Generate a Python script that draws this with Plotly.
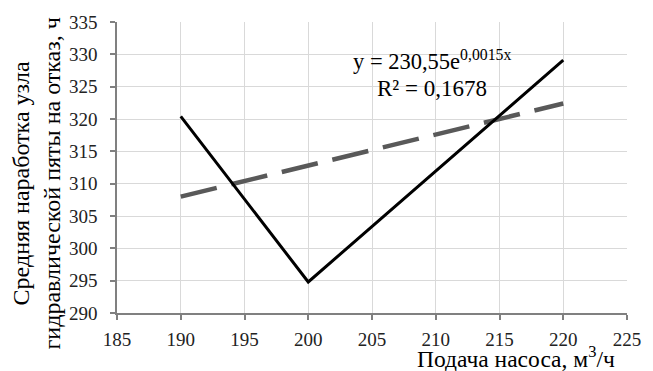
import plotly.graph_objects as go

# Data
flow = [190, 200, 220]                 # Подача насоса, м³/ч
mtbf = [320.4, 294.8, 329.1]           # Средняя наработка, ч
trend_x = [190, 200, 210, 220]
trend_y = [308.0, 312.8, 317.6, 322.4]  # экспоненциальный тренд

x_ticks = [185, 190, 195, 200, 205, 210, 215, 220, 225]
y_ticks = [290, 295, 300, 305, 310, 315, 320, 325, 330, 335]

FONT = "'Times New Roman', 'Liberation Serif', 'DejaVu Serif', serif"

fig = go.Figure()
fig.add_trace(go.Scatter(
    x=trend_x, y=trend_y, mode="lines",
    line=dict(color="#595959", width=4.5, dash="37px,15px"),
    showlegend=False, hoverinfo="skip"))
fig.add_trace(go.Scatter(
    x=flow, y=mtbf, mode="lines",
    line=dict(color="#000000", width=3),
    showlegend=False))

axis_common = dict(
    showgrid=True, gridcolor="#d9d9d9", gridwidth=1,
    showline=True, linecolor="#808080", linewidth=1.5,
    ticks="outside", ticklen=5, tickcolor="#808080", tickwidth=1.5,
    tickfont=dict(family=FONT, size=19, color="#222222"),
    zeroline=False,
)

fig.update_xaxes(range=[185, 225], tickvals=x_ticks, ticklabelstandoff=3, **axis_common)
fig.update_yaxes(range=[290, 335], tickvals=y_ticks, ticklabelstandoff=9, **axis_common)

fig.add_annotation(
    text="Средняя наработка узла<br>гидравлической пяты на отказ, ч",
    xref="paper", yref="paper", x=(35 - 116.7) / 520, y=(313.3 - 181) / 297.6,
    xanchor="center", yanchor="middle", textangle=-90, showarrow=False,
    font=dict(family=FONT, size=24, color="#000000"))

fig.add_annotation(
    text="Подача насоса, м<sup>3</sup>/ч",
    xref="paper", yref="paper", x=(524 - 116.7) / 520, y=(313.3 - 358) / 297.6,
    xanchor="center", yanchor="middle", showarrow=False, borderpad=0,
    font=dict(family=FONT, size=23.5, color="#000000"))

fig.add_annotation(
    text="y = 230,55e<sup>0,0015x</sup>",
    xref="paper", yref="paper", x=(438 - 116.7) / 520, y=(313.3 - 55) / 297.6,
    xanchor="center", yanchor="middle", showarrow=False,
    font=dict(family=FONT, size=22.5, color="#000000"))

fig.add_annotation(
    text="R² = 0,1678",
    xref="paper", yref="paper", x=(438 - 116.7) / 520, y=(313.3 - 84) / 297.6,
    xanchor="center", yanchor="middle", showarrow=False,
    font=dict(family=FONT, size=23, color="#000000"))

fig.update_layout(
    width=653, height=371,
    margin=dict(l=116.7, r=16.3, t=15.7, b=57.7),
    paper_bgcolor="#ffffff", plot_bgcolor="#ffffff",
    font=dict(family=FONT),
)

fig.write_html("out.html")
